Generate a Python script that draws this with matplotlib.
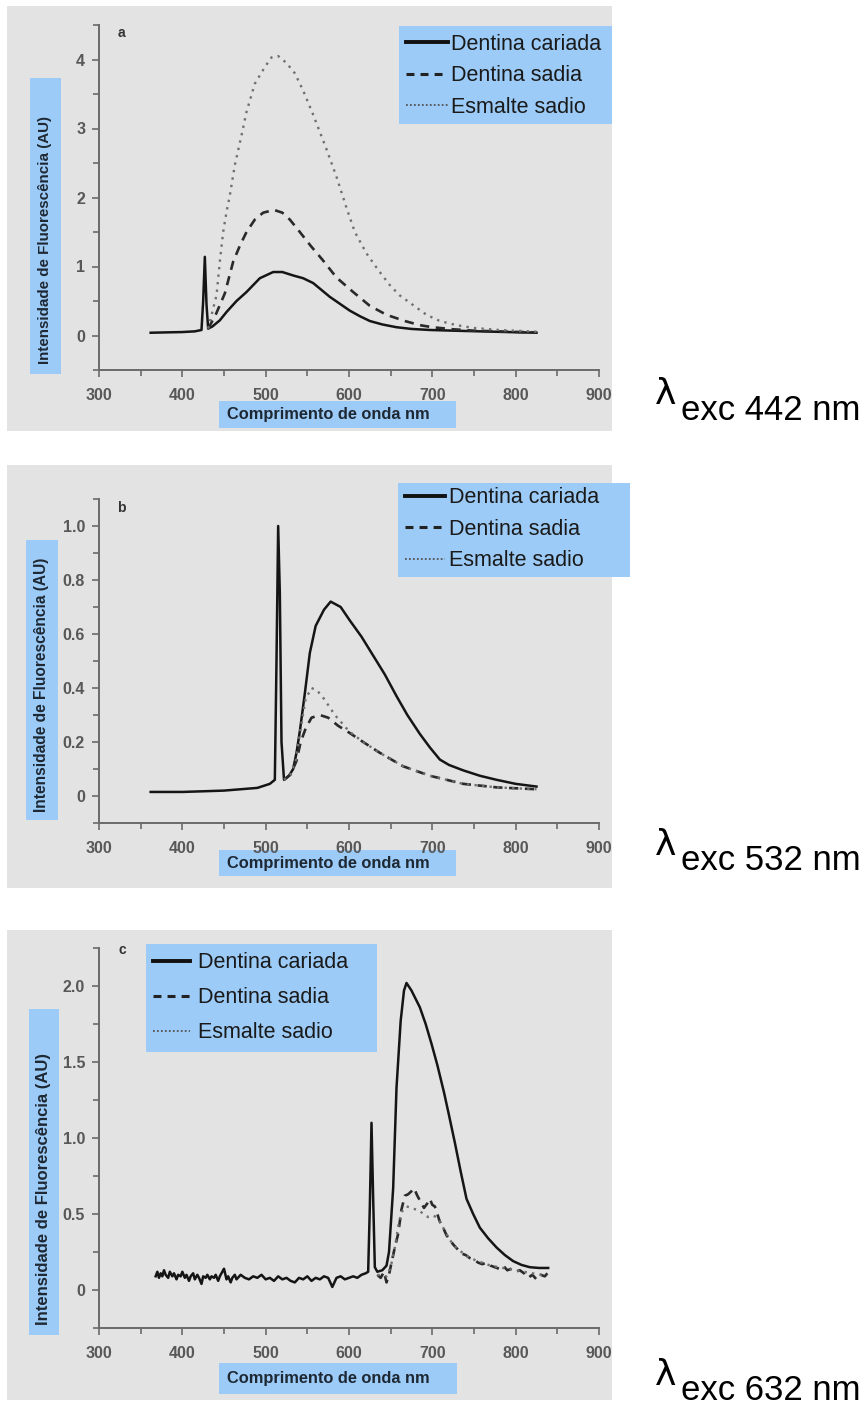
import matplotlib
matplotlib.use("Agg")
import matplotlib.pyplot as plt
from matplotlib.patches import Rectangle
from matplotlib.lines import Line2D
from matplotlib.ticker import MultipleLocator, FuncFormatter

plt.rcParams['font.family'] = ['Liberation Sans', 'DejaVu Sans']

W, H = 868, 1405

# ---- data ----
labels = ['Dentina cariada', 'Dentina sadia', 'Esmalte sadio']

# panel a, excitation 442 nm
a_wl_car = [362, 380, 400, 415, 423, 425, 427, 429, 431, 436, 445, 453, 465, 477, 493, 509, 520, 533,
            545, 557, 567, 577, 589, 601, 613, 625, 640, 657, 675, 697, 725, 757, 790, 825]
a_car = [0.04, 0.045, 0.05, 0.06, 0.08, 0.5, 1.14, 0.45, 0.1, 0.13, 0.22, 0.34, 0.5, 0.63, 0.83, 0.92, 0.92, 0.87,
         0.83, 0.76, 0.66, 0.56, 0.46, 0.36, 0.28, 0.21, 0.16, 0.12, 0.095, 0.08, 0.07, 0.06, 0.05, 0.04]
a_wl_den = [431, 440, 451, 461, 469, 477, 487, 497, 510, 520, 529, 541, 554, 568, 585, 605, 625, 645,
            667, 685, 700, 725, 750, 790, 825]
a_den = [0.1, 0.3, 0.61, 1.07, 1.3, 1.5, 1.68, 1.78, 1.82, 1.78, 1.68, 1.5, 1.3, 1.1, 0.84, 0.63, 0.43, 0.3,
         0.21, 0.15, 0.12, 0.09, 0.07, 0.055, 0.045]
a_wl_esm = [431, 437, 441, 445, 449, 453, 457, 463, 471, 477, 487, 499, 507, 515, 525, 535, 545, 557, 573,
            585, 597, 607, 621, 635, 649, 661, 677, 693, 709, 729, 749, 780, 817, 825]
a_esm = [0.1, 0.39, 0.58, 1.07, 1.5, 1.79, 2.03, 2.47, 2.9, 3.24, 3.65, 3.89, 4.03, 4.05, 3.95, 3.8, 3.55, 3.2, 2.7,
         2.3, 1.85, 1.5, 1.19, 0.95, 0.73, 0.58, 0.44, 0.30, 0.21, 0.15, 0.11, 0.08, 0.06, 0.055]

# panel b, excitation 532 nm
b_wl_car = [362, 400, 450, 490, 505, 511, 513, 515, 517, 519, 522, 528, 533, 537, 541, 547, 553, 560, 570,
            578, 590, 601, 615, 629, 643, 657, 670, 685, 697, 709, 720, 737, 757, 777, 800, 825]
b_car = [0.015, 0.015, 0.02, 0.03, 0.045, 0.06, 0.5, 1.0, 0.75, 0.2, 0.06, 0.075, 0.1, 0.16, 0.24, 0.38, 0.53, 0.63, 0.69,
         0.72, 0.7, 0.65, 0.59, 0.52, 0.45, 0.37, 0.3, 0.23, 0.18, 0.135, 0.115, 0.095, 0.075, 0.06, 0.045, 0.035]
b_wl_den = [522, 530, 537, 542, 548, 555, 565, 575, 587, 600, 617, 637, 665, 697, 737, 777, 825]
b_den = [0.06, 0.08, 0.13, 0.2, 0.25, 0.29, 0.30, 0.29, 0.26, 0.235, 0.2, 0.16, 0.11, 0.075, 0.045, 0.032, 0.025]
b_wl_esm = [522, 530, 536, 542, 548, 555, 562, 570, 583, 600, 617, 637, 665, 697, 737, 777, 825]
b_esm = [0.06, 0.08, 0.13, 0.25, 0.36, 0.40, 0.39, 0.36, 0.30, 0.24, 0.2, 0.16, 0.11, 0.075, 0.045, 0.032, 0.025]

# panel c, excitation 632 nm
c_wl_car = [368, 370, 372, 374, 376, 378, 380, 383, 385, 388, 390, 393, 395, 398, 400, 403, 405, 408, 410, 413,
            415, 418, 420, 423, 425, 428, 430, 433, 435, 438, 440, 443, 445, 448, 450, 453, 455, 458, 460, 463,
            465, 470, 475, 480, 485, 490, 495, 500, 505, 510, 515, 520, 525, 530, 535, 540, 545, 550, 555, 560,
            565, 570, 575, 580, 585, 590, 595, 600, 605, 610, 615, 620, 623, 625, 627, 629, 631, 634, 640, 645,
            648, 653, 657, 662, 666, 669, 675, 685, 692, 699, 706, 714, 720, 727, 734, 741, 749, 757, 767, 777,
            787, 797, 807, 817, 828, 839]
c_car = [0.09, 0.12, 0.08, 0.11, 0.09, 0.13, 0.10, 0.08, 0.12, 0.09, 0.11, 0.07, 0.10, 0.09, 0.12, 0.08, 0.10, 0.06, 0.09, 0.11,
         0.07, 0.10, 0.08, 0.04, 0.09, 0.08, 0.10, 0.07, 0.09, 0.08, 0.10, 0.06, 0.09, 0.12, 0.14, 0.07, 0.09, 0.05, 0.08, 0.10,
         0.07, 0.10, 0.08, 0.07, 0.09, 0.08, 0.10, 0.07, 0.08, 0.06, 0.09, 0.07, 0.08, 0.06, 0.05, 0.08, 0.07, 0.09, 0.06, 0.08,
         0.07, 0.09, 0.08, 0.02, 0.08, 0.09, 0.07, 0.08, 0.09, 0.08, 0.10, 0.11, 0.12, 0.55, 1.1, 0.6, 0.15, 0.12, 0.13, 0.16,
         0.25, 0.67, 1.33, 1.77, 1.97, 2.02, 1.97, 1.86, 1.75, 1.62, 1.48, 1.3, 1.15, 0.97, 0.78, 0.6, 0.5, 0.41, 0.34, 0.28,
         0.23, 0.19, 0.165, 0.15, 0.145, 0.145]
c_wl_den = [634, 638, 642, 645, 648, 651, 655, 659, 663, 667, 671, 675, 678, 682, 686, 690, 694, 697, 700, 703,
            706, 709, 713, 717, 721, 725, 730, 735, 740, 745, 750, 755, 760, 765, 770, 775, 780, 785, 790, 795,
            800, 805, 810, 815, 820, 825, 830, 835, 838]
c_den = [0.10, 0.08, 0.12, 0.05, 0.10, 0.18, 0.28, 0.37, 0.53, 0.62, 0.63, 0.65, 0.67, 0.62, 0.58, 0.54, 0.57, 0.60, 0.56, 0.55,
         0.50, 0.45, 0.41, 0.36, 0.33, 0.30, 0.27, 0.24, 0.23, 0.21, 0.20, 0.18, 0.17, 0.18, 0.16, 0.15, 0.14, 0.16, 0.13, 0.14,
         0.12, 0.13, 0.11, 0.08, 0.10, 0.07, 0.10, 0.09, 0.11]
c_wl_esm = [634, 645, 650, 655, 660, 664, 669, 675, 680, 685, 689, 695, 700, 705, 709, 713, 717, 721, 725, 730,
            735, 740, 745, 750, 760, 770, 780, 790, 800, 810, 820, 830, 838]
c_esm = [0.1, 0.09, 0.15, 0.28, 0.45, 0.52, 0.55, 0.54, 0.53, 0.52, 0.50, 0.48, 0.49, 0.48, 0.45, 0.41, 0.37, 0.33, 0.30, 0.27,
         0.25, 0.23, 0.21, 0.20, 0.18, 0.16, 0.15, 0.14, 0.13, 0.12, 0.11, 0.10, 0.10]

exc_labels = ['exc 442 nm', 'exc 532 nm', 'exc 632 nm']
letters = ['a', 'b', 'c']

# ---- layout in pixels ----
GRAY = '#e3e3e4'
BLUE = '#9ccbf7'


def fx(px):
    return px / W


def fy(py):
    return 1 - py / H


def box(fig, x0, y0, x1, y1, color):
    fig.patches.append(Rectangle((fx(x0), fy(y1)), fx(x1) - fx(x0), fy(y0) - fy(y1),
                                 transform=fig.transFigure, facecolor=color, edgecolor='none', zorder=0))


fig = plt.figure(figsize=(W / 100, H / 100), dpi=100)
fig.patch.set_facecolor('white')

panels = [
    dict(bg=(7, 6, 612, 431), ax=(99, 25, 599, 370), ylim=(-0.5, 4.5), major=1, minor=0.5,
         ylab=(30, 78, 61, 374), ylab_fs=10.9, ylab_off=10, xlab=(219, 401, 456, 428),
         legbox=(399, 26, 612, 124), leg=(406, 33.5),
         leg_kw=dict(handlelength=1.95, handletextpad=0.15, labelspacing=0.5),
         letter=(118, 33), lam=(655, 404, 420),
         data=[(a_wl_car, a_car), (a_wl_den, a_den), (a_wl_esm, a_esm)]),
    dict(bg=(7, 465, 612, 888), ax=(99, 499, 599, 823), ylim=(-0.1, 1.1), major=0.2, minor=0.1,
         ylab=(26, 540, 58, 820), ylab_fs=11.2, ylab_off=8, xlab=(219, 850, 456, 876),
         legbox=(398, 483, 630, 577), leg=(405, 487.5),
         leg_kw=dict(handlelength=1.85, handletextpad=0.2, labelspacing=0.48),
         letter=(117, 508), lam=(655, 855, 870),
         data=[(b_wl_car, b_car), (b_wl_den, b_den), (b_wl_esm, b_esm)]),
    dict(bg=(7, 930, 612, 1400), ax=(99, 948, 599, 1328), ylim=(-0.25, 2.25), major=0.5, minor=0.25,
         ylab=(29, 1009, 59, 1335), ylab_fs=12, ylab_off=10, xlab=(219, 1363, 457, 1394),
         legbox=(146, 944, 377, 1052), leg=(153, 952.5),
         leg_kw=dict(handlelength=1.7, handletextpad=0.37, labelspacing=0.64),
         letter=(119, 950), lam=(655, 1385, 1400),
         data=[(c_wl_car, c_car), (c_wl_den, c_den), (c_wl_esm, c_esm)]),
]

styles = [dict(color='#151515', lw=1.8, ls='-'),
          dict(color='#2a2a2a', lw=1.9, ls=(0, (3.5, 2.5))),
          dict(color='#707070', lw=1.7, ls=(0, (1, 2.2)))]

leg_handles = [Line2D([], [], color='#111111', lw=2.8, ls='-'),
               Line2D([], [], color='#222222', lw=2.2, ls=(0, (2.6, 2.0))),
               Line2D([], [], color='#555555', lw=1.3, ls=(0, (1, 1.2)))]

for i, p in enumerate(panels):
    box(fig, *p['bg'], GRAY)
    x0, y0, x1, y1 = p['ax']
    ax = fig.add_axes([fx(x0), fy(y1), fx(x1) - fx(x0), fy(y0) - fy(y1)])
    ax.set_facecolor('none')
    ax.set_zorder(2)
    for (wl, val), st in zip(p['data'], styles):
        ax.plot(wl, val, color=st['color'], lw=st['lw'], ls=st['ls'])
    ax.set_xlim(300, 900)
    ax.set_ylim(*p['ylim'])
    for s in ['top', 'right']:
        ax.spines[s].set_visible(False)
    for s in ['left', 'bottom']:
        ax.spines[s].set_color('#6a6a6a')
        ax.spines[s].set_linewidth(1.4)
    ax.xaxis.set_major_locator(MultipleLocator(100))
    ax.xaxis.set_minor_locator(MultipleLocator(50))
    ax.yaxis.set_major_locator(MultipleLocator(p['major']))
    ax.yaxis.set_minor_locator(MultipleLocator(p['minor']))
    if i == 0:
        ax.yaxis.set_major_formatter(FuncFormatter(lambda v, pos: '%d' % round(v)))
    else:
        ax.yaxis.set_major_formatter(FuncFormatter(lambda v, pos: '0' if abs(v) < 1e-9 else '%.1f' % v))
    ax.tick_params(axis='both', which='major', length=5, width=1.2, color='#6a6a6a',
                   labelsize=11.5, labelcolor='#585858')
    ax.tick_params(axis='both', which='minor', length=4, width=1.2, color='#6a6a6a')
    ax.tick_params(axis='x', which='major', pad=8)
    ax.tick_params(axis='y', which='major', pad=5)
    for t in ax.get_xticklabels() + ax.get_yticklabels():
        t.set_fontweight('bold')

    # legend: blue box plus frameless legend
    box(fig, *p['legbox'], BLUE)
    leg = ax.legend(leg_handles, labels, loc='upper left',
                    bbox_to_anchor=(fx(p['leg'][0]), fy(p['leg'][1])),
                    bbox_transform=fig.transFigure, borderaxespad=0, borderpad=0, fontsize=15.5,
                    frameon=False, **p['leg_kw'])
    for t in leg.get_texts():
        t.set_color('#1a1a1a')
    leg.set_zorder(5)

    # axis label boxes
    lx0, ly0, lx1, ly1 = p['ylab']
    box(fig, lx0, ly0, lx1, ly1, BLUE)
    fig.text(fx((lx0 + lx1) / 2), fy(ly1 - p['ylab_off']), 'Intensidade de Fluorescência (AU)', rotation=90,
             ha='center', va='bottom', fontsize=p['ylab_fs'], fontweight='bold', color='#1e2833', zorder=3)
    bx0, by0, bx1, by1 = p['xlab']
    box(fig, bx0, by0, bx1, by1, BLUE)
    fig.text(fx(bx0 + 8), fy((by0 + by1) / 2), 'Comprimento de onda nm', ha='left', va='center',
             fontsize=11.8, fontweight='bold', color='#1e2833', zorder=3)

    # panel letter
    fig.text(fx(p['letter'][0]), fy(p['letter'][1]), letters[i], ha='left', va='center',
             fontsize=10, fontweight='bold', color='#333333', zorder=3)

    # excitation wavelength text
    lxp, lbase, ebase = p['lam']
    fig.text(fx(lxp), fy(lbase), 'λ', ha='left', va='baseline', fontsize=26,
             family=['DejaVu Sans'], color='black')
    fig.text(fx(lxp + 26), fy(ebase), exc_labels[i], ha='left', va='baseline', fontsize=25,
             color='black')

fig.savefig('out.png', dpi=100, facecolor='white')
